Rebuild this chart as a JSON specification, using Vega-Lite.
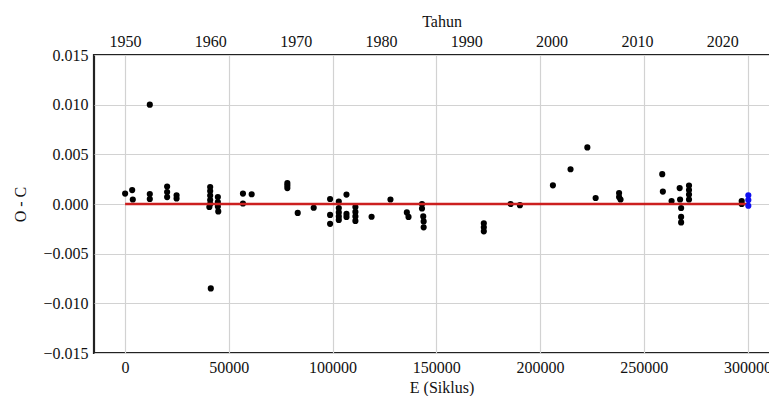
{
  "$schema": "https://vega.github.io/schema/vega-lite/v6.json",
  "autosize": "none",
  "width": 695,
  "height": 298,
  "padding": {"left": 94, "top": 55, "right": 0, "bottom": 43},
  "config": {
    "font": "Times New Roman, Liberation Serif, DejaVu Serif, serif",
    "view": {"stroke": "#222", "strokeWidth": 2.2},
    "axis": {
      "labelFont": "Times New Roman, Liberation Serif, DejaVu Serif, serif",
      "titleFont": "Times New Roman, Liberation Serif, DejaVu Serif, serif",
      "labelFontSize": 16,
      "titleFontSize": 16,
      "titleFontWeight": "normal",
      "labelColor": "#111",
      "titleColor": "#111",
      "domain": false,
      "ticks": false,
      "gridColor": "#d2d2d2",
      "gridWidth": 1.2
    }
  },
  "datasets": {
    "oc": [
      {"E": 0, "OC": 0.00105, "grup": "lama"},
      {"E": 3400, "OC": 0.0014, "grup": "lama"},
      {"E": 3700, "OC": 0.00045, "grup": "lama"},
      {"E": 11900, "OC": 0.01, "grup": "lama"},
      {"E": 11900, "OC": 0.001, "grup": "lama"},
      {"E": 11900, "OC": 0.0005, "grup": "lama"},
      {"E": 20250, "OC": 0.00175, "grup": "lama"},
      {"E": 20250, "OC": 0.0012, "grup": "lama"},
      {"E": 20250, "OC": 0.0007, "grup": "lama"},
      {"E": 24800, "OC": 0.00088, "grup": "lama"},
      {"E": 24800, "OC": 0.00055, "grup": "lama"},
      {"E": 41000, "OC": 0.0017, "grup": "lama"},
      {"E": 41000, "OC": 0.0013, "grup": "lama"},
      {"E": 41000, "OC": 0.00085, "grup": "lama"},
      {"E": 41000, "OC": 0.0004, "grup": "lama"},
      {"E": 41000, "OC": 0.0, "grup": "lama"},
      {"E": 40600, "OC": -0.0003, "grup": "lama"},
      {"E": 41300, "OC": -0.0085, "grup": "lama"},
      {"E": 44700, "OC": 0.0007, "grup": "lama"},
      {"E": 44700, "OC": 0.0002, "grup": "lama"},
      {"E": 44700, "OC": -0.00025, "grup": "lama"},
      {"E": 44900, "OC": -0.00075, "grup": "lama"},
      {"E": 56800, "OC": 0.00105, "grup": "lama"},
      {"E": 56800, "OC": 0.00005, "grup": "lama"},
      {"E": 61000, "OC": 0.00098, "grup": "lama"},
      {"E": 78200, "OC": 0.0021, "grup": "lama"},
      {"E": 78200, "OC": 0.00185, "grup": "lama"},
      {"E": 78200, "OC": 0.0016, "grup": "lama"},
      {"E": 83200, "OC": -0.0009, "grup": "lama"},
      {"E": 90900, "OC": -0.00038, "grup": "lama"},
      {"E": 98800, "OC": 0.0005, "grup": "lama"},
      {"E": 98800, "OC": -0.0011, "grup": "lama"},
      {"E": 98800, "OC": -0.002, "grup": "lama"},
      {"E": 103000, "OC": 0.00025, "grup": "lama"},
      {"E": 103000, "OC": -0.0004, "grup": "lama"},
      {"E": 103000, "OC": -0.00085, "grup": "lama"},
      {"E": 103000, "OC": -0.00125, "grup": "lama"},
      {"E": 103000, "OC": -0.0016, "grup": "lama"},
      {"E": 106700, "OC": 0.00095, "grup": "lama"},
      {"E": 106700, "OC": -0.001, "grup": "lama"},
      {"E": 106700, "OC": -0.0013, "grup": "lama"},
      {"E": 111000, "OC": -0.0003, "grup": "lama"},
      {"E": 111000, "OC": -0.0008, "grup": "lama"},
      {"E": 111000, "OC": -0.00125, "grup": "lama"},
      {"E": 111000, "OC": -0.0017, "grup": "lama"},
      {"E": 118800, "OC": -0.00128, "grup": "lama"},
      {"E": 127900, "OC": 0.00045, "grup": "lama"},
      {"E": 135800, "OC": -0.00085, "grup": "lama"},
      {"E": 136600, "OC": -0.0013, "grup": "lama"},
      {"E": 143100, "OC": 0.0, "grup": "lama"},
      {"E": 143100, "OC": -0.00045, "grup": "lama"},
      {"E": 143700, "OC": -0.00125, "grup": "lama"},
      {"E": 143900, "OC": -0.00175, "grup": "lama"},
      {"E": 143900, "OC": -0.00235, "grup": "lama"},
      {"E": 172900, "OC": -0.00195, "grup": "lama"},
      {"E": 172900, "OC": -0.00235, "grup": "lama"},
      {"E": 172900, "OC": -0.00275, "grup": "lama"},
      {"E": 185800, "OC": 0.0, "grup": "lama"},
      {"E": 190300, "OC": -0.00012, "grup": "lama"},
      {"E": 206200, "OC": 0.00188, "grup": "lama"},
      {"E": 214700, "OC": 0.0035, "grup": "lama"},
      {"E": 222800, "OC": 0.0057, "grup": "lama"},
      {"E": 226800, "OC": 0.0006, "grup": "lama"},
      {"E": 238100, "OC": 0.0011, "grup": "lama"},
      {"E": 238100, "OC": 0.0007, "grup": "lama"},
      {"E": 238800, "OC": 0.00045, "grup": "lama"},
      {"E": 258900, "OC": 0.003, "grup": "lama"},
      {"E": 259200, "OC": 0.00125, "grup": "lama"},
      {"E": 263400, "OC": 0.0003, "grup": "lama"},
      {"E": 267300, "OC": 0.0016, "grup": "lama"},
      {"E": 267500, "OC": 0.00045, "grup": "lama"},
      {"E": 268000, "OC": -0.0004, "grup": "lama"},
      {"E": 268000, "OC": -0.0013, "grup": "lama"},
      {"E": 268000, "OC": -0.00185, "grup": "lama"},
      {"E": 271800, "OC": 0.00185, "grup": "lama"},
      {"E": 271800, "OC": 0.0014, "grup": "lama"},
      {"E": 271800, "OC": 0.00095, "grup": "lama"},
      {"E": 271800, "OC": 0.00045, "grup": "lama"},
      {"E": 297200, "OC": 0.0003, "grup": "lama"},
      {"E": 297200, "OC": 0.0, "grup": "lama"},
      {"E": 300400, "OC": 0.00088, "grup": "baru"},
      {"E": 300400, "OC": 0.0004, "grup": "baru"},
      {"E": 300400, "OC": -0.00018, "grup": "baru"}
    ],
    "fit": [
      {"E": 0, "OC": 0},
      {"E": 300400, "OC": 0}
    ],
    "tahun": [
      {"Tahun": 1946.37},
      {"Tahun": 2027.82}
    ]
  },
  "layer": [
    {
      "layer": [
        {
          "data": {"name": "oc"},
          "transform": [{"filter": "datum.grup === 'lama'"}],
          "mark": {"type": "circle", "size": 38, "opacity": 1, "color": "#000"},
          "encoding": {
            "x": {
              "field": "E", "type": "quantitative",
              "scale": {"domain": [-15000, 320000], "nice": false, "zero": false},
              "axis": {
                "title": "E (Siklus)",
                "values": [0, 50000, 100000, 150000, 200000, 250000, 300000],
                "format": "d",
                "labelPadding": 6,
                "titlePadding": 4
              }
            },
            "y": {
              "field": "OC", "type": "quantitative",
              "scale": {"domain": [-0.015, 0.015], "nice": false},
              "axis": {
                "title": "O - C",
                "values": [-0.015, -0.01, -0.005, 0, 0.005, 0.01, 0.015],
                "format": ".3f",
                "labelPadding": 6,
                "titlePadding": 14
              }
            }
          }
        },
        {
          "data": {"name": "fit"},
          "mark": {"type": "line", "color": "#cc1f1f", "strokeWidth": 2.5},
          "encoding": {
            "x": {"field": "E", "type": "quantitative"},
            "y": {"field": "OC", "type": "quantitative"}
          }
        },
        {
          "data": {"name": "oc"},
          "transform": [{"filter": "datum.grup === 'baru'"}],
          "mark": {"type": "circle", "size": 38, "opacity": 1, "color": "#1010f0"},
          "encoding": {
            "x": {"field": "E", "type": "quantitative"},
            "y": {"field": "OC", "type": "quantitative"}
          }
        }
      ]
    },
    {
      "data": {"name": "tahun"},
      "mark": {"type": "point", "opacity": 0},
      "encoding": {
        "x": {
          "field": "Tahun", "type": "quantitative",
          "scale": {"domain": [1946.37, 2027.82], "nice": false, "zero": false},
          "axis": {
            "orient": "top",
            "title": "Tahun",
            "values": [1950, 1960, 1970, 1980, 1990, 2000, 2010, 2020],
            "format": "d",
            "grid": false,
            "labelPadding": 6,
            "titlePadding": 4
          }
        }
      }
    }
  ],
  "resolve": {"scale": {"x": "independent"}, "axis": {"x": "independent"}}
}
